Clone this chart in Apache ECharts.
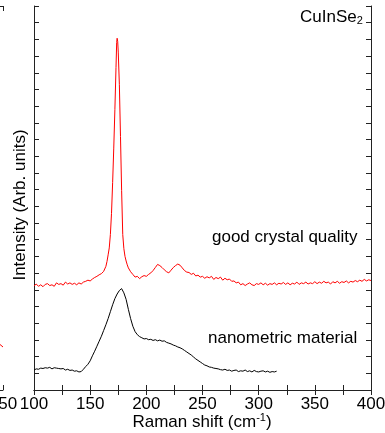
<!DOCTYPE html>
<html>
<head>
<meta charset="utf-8">
<script src="https://cdn.jsdelivr.net/npm/echarts@6/dist/echarts.min.js"></script>
<style>
  html, body { margin: 0; padding: 0; background: #fff; }
  #chart { width: 385px; height: 433px; }
</style>
</head>
<body>
<div id="chart"></div>
<script>
// Raman spectra, [shift cm-1, intensity (arb.)]
const goodCrystal = [
  [100, 27.1], [102, 27.6], [104, 27.0], [106, 27.4], [108, 26.9], [110, 27.5], [112, 27.7], [114, 27.2],
  [116, 27.4], [118, 27.0], [120, 27.9], [122, 27.5], [124, 27.7], [126, 27.3], [128, 28.1], [130, 27.6],
  [132, 27.9], [134, 27.5], [136, 27.8], [138, 27.4], [140, 27.9], [142, 27.6], [144, 28.1], [146, 28.3],
  [148, 28.6], [150, 28.4], [152, 28.9], [154, 29.3], [156, 29.6], [158, 30.0], [160, 30.3], [162, 30.9],
  [163, 31.3], [164, 32.2], [165, 33.5], [166, 35.2], [167, 37.0], [168, 40.5], [169, 46.0], [170, 54.0],
  [171, 63.0], [172, 73.0], [173, 84.0], [173.6, 90.5], [174, 91.6], [174.5, 90.8], [175, 88.0], [176, 79.5],
  [177, 66.0], [178, 52.0], [179, 40.5], [180, 36.8], [181, 34.8], [182, 33.6], [183, 32.6], [184, 31.8],
  [186, 30.8], [188, 30.1], [190, 29.4], [192, 29.6], [194, 29.0], [196, 29.5], [198, 29.8], [200, 29.6],
  [202, 30.1], [204, 30.5], [206, 31.1], [208, 31.9], [210, 32.7], [212, 32.4], [214, 31.9], [216, 31.3],
  [218, 30.8], [220, 30.5], [222, 31.2], [224, 31.9], [226, 32.4], [228, 32.8], [230, 32.5], [232, 31.8],
  [234, 31.1], [236, 30.7], [238, 30.6], [240, 30.1], [242, 30.4], [244, 29.7], [246, 29.9], [248, 29.4],
  [250, 29.6], [252, 29.1], [254, 29.5], [256, 29.2], [258, 29.6], [260, 28.8], [262, 29.3], [264, 29.0],
  [266, 29.4], [268, 28.6], [270, 29.1], [272, 28.7], [274, 28.9], [276, 28.3], [278, 28.4], [280, 27.9],
  [282, 28.1], [284, 27.4], [286, 27.7], [288, 27.2], [290, 27.6], [292, 27.9], [294, 27.4], [296, 27.2],
  [298, 27.7], [300, 27.5], [302, 27.9], [304, 27.4], [306, 27.8], [308, 27.3], [310, 27.7], [312, 27.5],
  [314, 27.9], [316, 27.4], [318, 27.8], [320, 27.6], [322, 28.0], [324, 27.5], [326, 27.9], [328, 27.4],
  [330, 27.8], [332, 27.6], [334, 28.1], [336, 27.5], [338, 27.9], [340, 27.7], [342, 28.1], [344, 27.6],
  [346, 27.9], [348, 27.7], [350, 28.2], [352, 27.7], [354, 28.1], [356, 27.8], [358, 28.3], [360, 27.9],
  [362, 28.1], [364, 27.6], [366, 28.2], [368, 27.9], [370, 28.3], [372, 27.8], [374, 28.2], [376, 28.0],
  [378, 28.4], [380, 27.9], [382, 28.3], [384, 28.1], [386, 28.5], [388, 28.2], [390, 28.6], [392, 28.3],
  [394, 28.8], [396, 28.4], [398, 28.7], [400, 28.5]
];

const nanoMaterial = [
  [100, 5.2], [102, 5.5], [104, 5.4], [106, 5.7], [108, 5.6], [110, 5.8], [112, 5.7], [114, 5.9],
  [116, 5.5], [118, 5.8], [120, 5.7], [122, 5.6], [124, 5.5], [126, 5.6], [128, 5.2], [130, 5.4],
  [132, 5.1], [134, 5.2], [136, 4.9], [138, 5.0], [140, 4.7], [142, 4.8], [144, 5.4], [146, 6.1],
  [148, 6.7], [150, 7.6], [152, 8.9], [154, 10.1], [156, 11.4], [158, 12.7], [160, 14.0], [162, 15.5],
  [164, 17.0], [166, 18.6], [168, 20.4], [170, 22.2], [172, 23.8], [174, 25.0], [176, 25.9], [178, 26.4],
  [179, 26.0], [180, 25.3], [182, 23.6], [184, 21.0], [186, 18.6], [188, 16.6], [190, 15.2], [192, 14.4],
  [194, 13.9], [196, 13.6], [198, 13.3], [200, 13.4], [202, 13.1], [204, 13.2], [206, 12.9], [208, 13.1],
  [210, 12.8], [212, 13.0], [214, 12.7], [216, 12.8], [218, 12.4], [220, 12.2], [222, 12.0], [224, 11.7],
  [226, 11.5], [228, 11.2], [230, 11.0], [232, 10.7], [234, 10.3], [236, 9.9], [238, 9.5], [240, 9.1],
  [242, 8.6], [244, 8.1], [246, 7.7], [248, 7.3], [250, 6.9], [252, 6.5], [254, 6.3], [256, 6.0],
  [258, 5.9], [260, 5.7], [262, 5.6], [264, 5.5], [266, 5.3], [268, 5.2], [270, 5.4], [272, 5.1],
  [274, 5.2], [276, 4.9], [278, 5.1], [280, 5.2], [282, 4.8], [284, 5.0], [286, 4.9], [288, 5.2],
  [290, 4.8], [292, 5.0], [294, 4.7], [296, 5.1], [298, 4.8], [300, 4.7], [302, 4.9], [304, 5.0],
  [306, 4.7], [308, 4.9], [310, 4.6], [312, 4.8], [314, 4.7], [316, 4.9]
];

// tail of the neighbouring (cropped) panel on the left
const neighbourTail = [[244, 12.0], [246, 12.4], [248, 11.9], [250, 11.2]];

const FONT = "'Liberation Sans', Arial, sans-serif";
const AXIS_COLOR = '#222';
const Y_TICK = 100 / 23;

const chart = echarts.init(document.getElementById('chart'));

const frameAxis = (extra) => Object.assign({
  type: 'value',
  axisLine: { show: true, lineStyle: { color: AXIS_COLOR, width: 1 } },
  axisTick: { show: true, inside: true, length: 5, lineStyle: { color: AXIS_COLOR } },
  axisLabel: { show: false },
  splitLine: { show: false }
}, extra);

// only every second tick (multiples of 50) carries a label
const tickLabel = {
  show: true, fontSize: 17, fontFamily: FONT, color: '#000', margin: 6,
  showMinLabel: true, showMaxLabel: true,
  formatter: (v) => (v % 50 === 0 ? String(v) : '')
};

chart.setOption({
  animation: false,
  backgroundColor: '#fff',
  grid: [
    { left: 34, right: 14, top: 6, bottom: 43, outerBoundsMode: 'none', containLabel: false },
    { left: -400, right: 382, top: 6, bottom: 43, outerBoundsMode: 'none', containLabel: false }
  ],
  xAxis: [
    frameAxis({ gridIndex: 0, position: 'bottom', min: 100, max: 400, interval: 25, axisLabel: tickLabel }),
    frameAxis({ gridIndex: 0, position: 'top', min: 100, max: 400, interval: 25 }),
    frameAxis({ gridIndex: 1, position: 'bottom', min: 0, max: 250, interval: 25, axisLabel: tickLabel }),
    frameAxis({ gridIndex: 1, position: 'top', min: 0, max: 250, interval: 25 })
  ],
  yAxis: [
    frameAxis({ gridIndex: 0, position: 'left', min: 0, max: 100, interval: Y_TICK }),
    frameAxis({ gridIndex: 0, position: 'right', min: 0, max: 100, interval: Y_TICK }),
    frameAxis({ gridIndex: 1, position: 'right', min: 0, max: 100, interval: Y_TICK })
  ],
  series: [
    {
      name: 'good crystal quality', type: 'line', xAxisIndex: 0, yAxisIndex: 0,
      data: goodCrystal, showSymbol: false,
      lineStyle: { color: '#ff0000', width: 1 }
    },
    {
      name: 'nanometric material', type: 'line', xAxisIndex: 0, yAxisIndex: 0,
      data: nanoMaterial, showSymbol: false,
      lineStyle: { color: '#000', width: 1 }
    },
    {
      type: 'line', xAxisIndex: 2, yAxisIndex: 2,
      data: neighbourTail, showSymbol: false,
      lineStyle: { color: '#ff0000', width: 1 }
    }
  ],
  graphic: [
    {
      type: 'text', left: 300, top: 9,
      style: {
        text: 'CuInSe{sub|2}', fontSize: 17, fontFamily: FONT, fill: '#000',
        rich: { sub: { fontSize: 11, fontFamily: FONT, fill: '#000', padding: [7, 0, 0, 0] } }
      }
    },
    {
      type: 'text', left: 212, top: 229,
      style: { text: 'good crystal quality', fontSize: 17, fontFamily: FONT, fill: '#000' }
    },
    {
      type: 'text', left: 208, top: 330,
      style: { text: 'nanometric material', fontSize: 17, fontFamily: FONT, fill: '#000' }
    },
    {
      type: 'text', x: 202, y: 422,
      style: {
        text: 'Raman shift (cm{sup|-1})', fontSize: 17, fontFamily: FONT, fill: '#000',
        align: 'center', verticalAlign: 'middle',
        rich: { sup: { fontSize: 11, fontFamily: FONT, fill: '#000', padding: [0, 0, 8, 0] } }
      }
    },
    {
      type: 'text', x: 20, y: 205, rotation: Math.PI / 2,
      style: {
        text: 'Intensity (Arb. units)', fontSize: 17, fontFamily: FONT, fill: '#000',
        align: 'center', verticalAlign: 'middle'
      }
    }
  ]
});
</script>
</body>
</html>
